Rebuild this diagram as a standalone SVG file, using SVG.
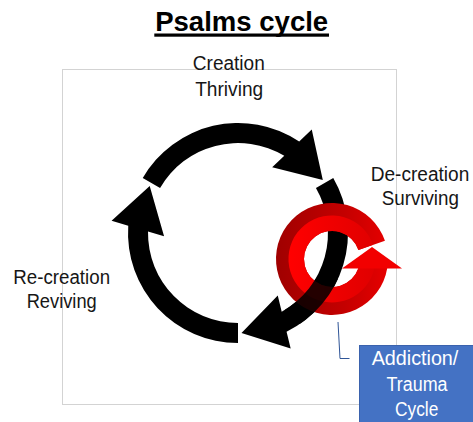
<svg xmlns="http://www.w3.org/2000/svg" width="473" height="422" viewBox="0 0 473 422">
  <style>
    .lbl { font-family: "Liberation Sans", Arial, sans-serif; font-size: 20px; fill: #161616; text-anchor: middle; }
    .box { font-family: "Liberation Sans", Arial, sans-serif; font-size: 20px; fill: #ffffff; text-anchor: middle; }
    .title { font-family: "Liberation Sans", Arial, sans-serif; font-size: 28px; font-weight: bold; fill: #000; text-anchor: middle; }
    .arrow { fill: #000; }
  </style>
  <defs>
    <path id="blackArrow" d="M 142.74,178 A 110 110 0 0 1 299.19,141.59 L 311.75,129.61 L 322.8,180.01 L 272.17,167.36 L 284.28,155.81 A 90 90 0 0 0 160.06,188 Z"/>
    <linearGradient id="outerRed" x1="276" y1="0" x2="390" y2="0" gradientUnits="userSpaceOnUse">
      <stop offset="0" stop-color="#a00000"/>
      <stop offset="0.6" stop-color="#c40000"/>
      <stop offset="1" stop-color="#e80000"/>
    </linearGradient>
    <linearGradient id="innerRed" x1="290" y1="0" x2="375" y2="0" gradientUnits="userSpaceOnUse">
      <stop offset="0" stop-color="#ff0000"/>
      <stop offset="1" stop-color="#e00000"/>
    </linearGradient>
    <clipPath id="lowerClip">
      <rect x="285" y="279" width="60" height="45"/>
    </clipPath>
  </defs>

  <rect width="473" height="422" fill="#ffffff"/>

  <g id="title">
    <text class="title" x="241.7" y="30.5" textLength="173" lengthAdjust="spacingAndGlyphs">Psalms cycle</text>
    <rect x="154.3" y="33.5" width="174.7" height="3.2" fill="#000"/>
  </g>

  <g id="frame">
    <rect x="62.5" y="69.5" width="334" height="335" fill="none" stroke="#d3d3d3" stroke-width="1"/>
  </g>

  <g id="cycle">
    <use href="#blackArrow" class="arrow"/>
    <use href="#blackArrow" class="arrow" transform="rotate(120 238 233)"/>
    <use href="#blackArrow" class="arrow" transform="rotate(240 238 233)"/>
  </g>

  <g id="addiction-ring">
    <path d="M 387.27,268 A 56 56 0 1 1 384.95,240.77 L 358.47,249.88 A 28 28 0 1 0 358.5,268 Z" fill="url(#outerRed)"/>
    <path d="M 374.5,268 A 43.5 43.5 0 1 1 373.1,244.8 L 358.47,249.88 A 28 28 0 1 0 358.5,268 Z" fill="url(#innerRed)"/>
    <polygon points="342,268.5 372,247 402,268.5" fill="#f20000"/>
    <g clip-path="url(#lowerClip)" opacity="0.85">
      <use href="#blackArrow" class="arrow" transform="rotate(120 238 233)"/>
    </g>
  </g>

  <g id="node-creation">
    <text class="lbl" x="228.8" y="70" textLength="72" lengthAdjust="spacingAndGlyphs">Creation</text>
    <text class="lbl" x="229.2" y="95.5" textLength="68" lengthAdjust="spacingAndGlyphs">Thriving</text>
  </g>

  <g id="node-decreation">
    <text class="lbl" x="420" y="180.7" textLength="98.7" lengthAdjust="spacingAndGlyphs">De-creation</text>
    <text class="lbl" x="420.3" y="205" textLength="77.3" lengthAdjust="spacingAndGlyphs">Surviving</text>
  </g>

  <g id="node-recreation">
    <text class="lbl" x="61.7" y="284.3" textLength="96.7" lengthAdjust="spacingAndGlyphs">Re-creation</text>
    <text class="lbl" x="61.7" y="308.3" textLength="70" lengthAdjust="spacingAndGlyphs">Reviving</text>
  </g>

  <g id="connectors">
    <polyline points="338,322 340,358.5 349.5,358.5" fill="none" stroke="#2f5597" stroke-width="1"/>
  </g>

  <g id="node-addiction">
    <rect x="359.5" y="345.5" width="115" height="78" fill="#4472c4" stroke="#3a62ad" stroke-width="1"/>
    <text class="box" x="415" y="365" textLength="86.7" lengthAdjust="spacingAndGlyphs">Addiction/</text>
    <text class="box" x="417" y="390.5" textLength="61" lengthAdjust="spacingAndGlyphs">Trauma</text>
    <text class="box" x="416.7" y="415.5" textLength="43.3" lengthAdjust="spacingAndGlyphs">Cycle</text>
  </g>
</svg>
